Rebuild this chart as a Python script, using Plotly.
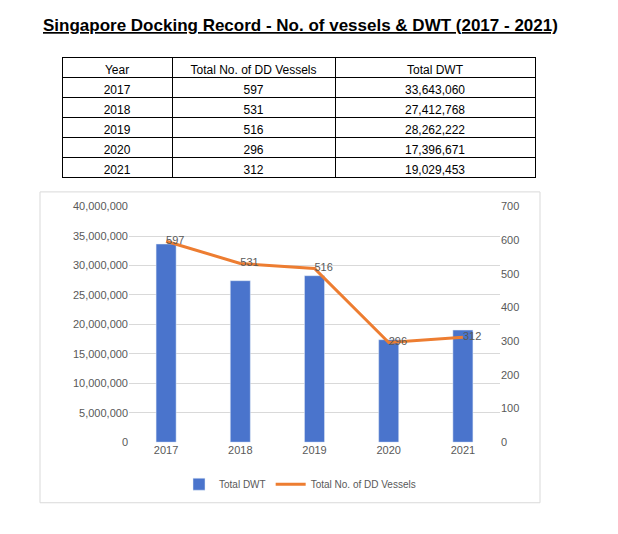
import plotly.graph_objects as go

years = ["2017", "2018", "2019", "2020", "2021"]
vessels = [597, 531, 516, 296, 312]
dwt = [33643060, 27412768, 28262222, 17396671, 19029453]
headers = ["Year", "Total No. of DD Vessels", "Total DWT"]

W, H = 618, 534
OX, OY = 8, 8
def px(x): return (x - OX) / W
def py(y): return 1 - (y - OY) / H

fig = go.Figure()
fig.add_trace(go.Table(
    domain=dict(x=[px(62), px(535)], y=[py(185), py(52)]),
    columnwidth=[110, 163, 200],
    header=dict(values=headers, line_color="black", fill_color="white",
                font=dict(family="Liberation Sans", size=12, color="black"), height=20, align="center"),
    cells=dict(values=[years, [str(v) for v in vessels], [f"{v:,}" for v in dwt]],
               line_color="black", fill_color="white",
               font=dict(family="Liberation Sans", size=12, color="black"), height=20, align="center"),
))
fig.add_trace(go.Bar(x=years, y=dwt, name="Total DWT", marker_color="#4A74CC", width=0.27))
fig.add_trace(go.Scatter(x=years, y=vessels, name="Total No. of DD Vessels", yaxis="y2",
                         mode="lines+text", text=[str(v) for v in vessels], textposition="middle right",
                         textfont=dict(size=11, color="#595959"),
                         line=dict(color="#ED7D31", width=3)))
fig.update_layout(
    width=W, height=H, margin=dict(l=0, r=0, t=0, b=0), paper_bgcolor="white", plot_bgcolor="white",
    font=dict(family="Liberation Sans", size=10, color="#595959"),
    xaxis=dict(domain=[px(129), px(500)], anchor="y", tickfont=dict(size=11), ticks="", showline=False),
    yaxis=dict(domain=[py(446), py(205)], range=[0, 40000000], dtick=5000000, tickformat=",",
               gridcolor="#D9D9D9", zeroline=False, tickfont=dict(size=11)),
    yaxis2=dict(overlaying="y", side="right", range=[0, 700], dtick=100, showgrid=False,
                zeroline=False, tickfont=dict(size=11)),
    legend=dict(orientation="h", x=px(300), xanchor="center", y=py(489), yanchor="middle",
                font=dict(size=10, color="#595959")),
    showlegend=True, bargap=0.7,
    shapes=[dict(type="rect", xref="paper", yref="paper", x0=px(40), x1=px(540), y0=py(508), y1=py(190),
                 line=dict(color="#D9D9D9", width=1))],
    annotations=[dict(text="<b><u>Singapore Docking Record - No. of vessels & DWT (2017 - 2021)</u></b>",
                      xref="paper", yref="paper", x=px(300), y=py(20), yanchor="middle", showarrow=False,
                      font=dict(size=17, color="black", family="Liberation Sans"))],
)
fig.write_html("out.html")
